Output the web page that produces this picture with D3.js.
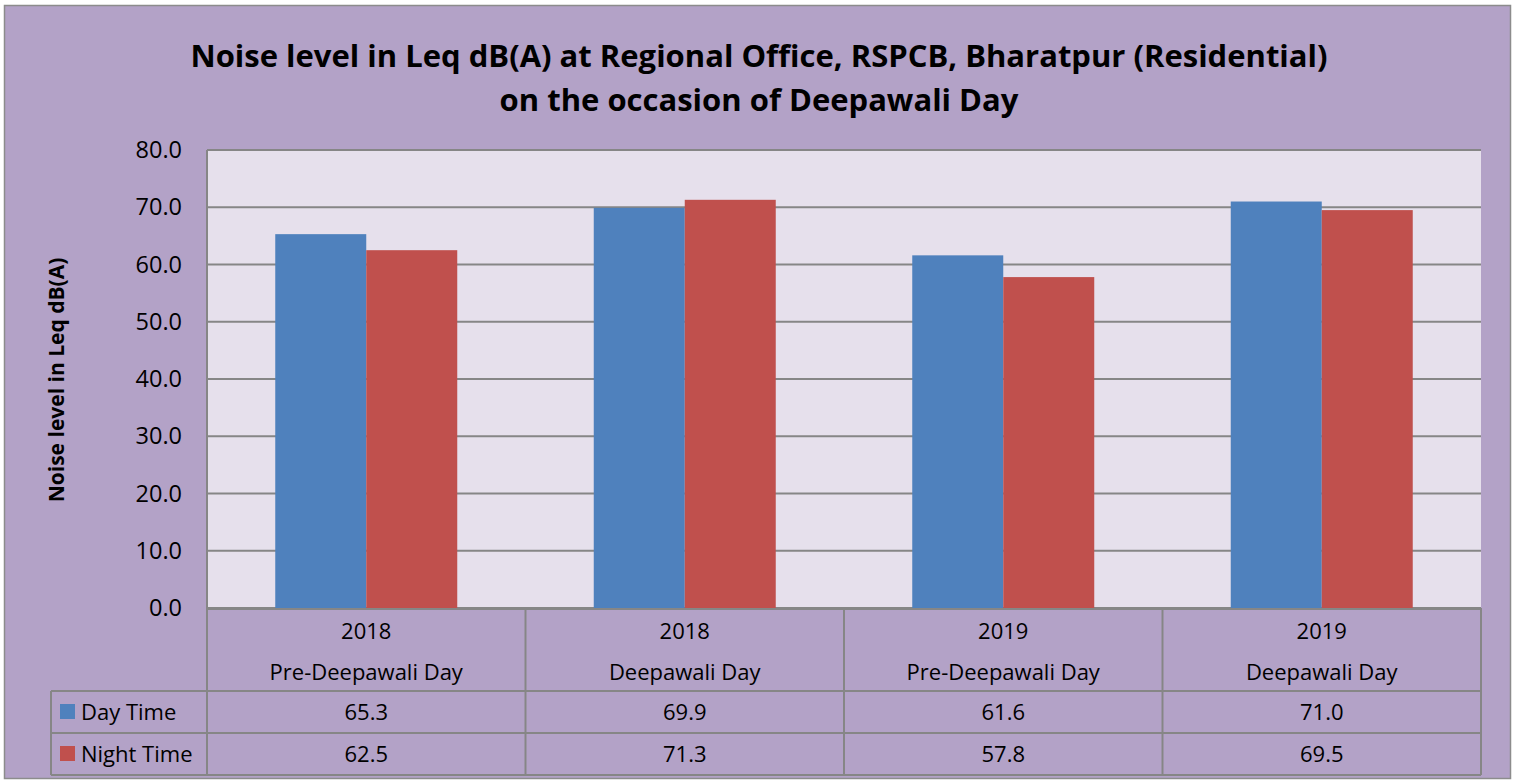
<!DOCTYPE html>
<html>
<head>
<meta charset="utf-8">
<script src="https://cdn.jsdelivr.net/npm/d3@7"></script>
<style>
  body { margin: 0; background: #fff; }
  svg text { font-family: "Open Sans", "Noto Sans", sans-serif; fill: #000; }
</style>
</head>
<body>
<svg id="chart" width="1518" height="783"></svg>
<script>
// chart data
const years = ["2018", "2018", "2019", "2019"];
const occasions = ["Pre-Deepawali Day", "Deepawali Day", "Pre-Deepawali Day", "Deepawali Day"];
const seriesNames = ["Day Time", "Night Time"];
const dayTime = [65.3, 69.9, 61.6, 71.0];
const nightTime = [62.5, 71.3, 57.8, 69.5];
const yTicks = [0, 10, 20, 30, 40, 50, 60, 70, 80];
const colors = ["#4F81BD", "#C0504D"];

let svg = d3.select("#chart");
let plotLeft = 207, plotRight = 1481, plotTop = 150, plotBottom = 608;
let tableFont = 22;

let series = [dayTime, nightTime];
let cats = d3.range(years.length);

// outer frame
svg.append("rect")
  .attr("x", 4.5).attr("y", 5.5)
  .attr("width", 1506).attr("height", 773)
  .attr("fill", "#B3A2C7")
  .attr("stroke", "#8c8c8c").attr("stroke-width", 1.5);

// title
let title = svg.append("text")
  .attr("text-anchor", "middle")
  .attr("font-weight", "bold")
  .attr("font-size", 31);
title.append("tspan").attr("x", 759).attr("y", 67)
  .text("Noise level in Leq dB(A) at Regional Office, RSPCB, Bharatpur (Residential)");
title.append("tspan").attr("x", 759).attr("y", 111)
  .text("on the occasion of Deepawali Day");

// scales
let xScale = d3.scaleBand().domain(cats).range([plotLeft, plotRight]).paddingInner(0).paddingOuter(0);
let inner = d3.scaleBand().domain([0, 1]).range([0, xScale.bandwidth()]).paddingOuter(0.75).paddingInner(0);
let yScale = d3.scaleLinear().domain([0, 80]).range([plotBottom, plotTop]);

// plot bg
svg.append("rect")
  .attr("x", plotLeft).attr("y", plotTop)
  .attr("width", plotRight - plotLeft).attr("height", plotBottom - plotTop)
  .attr("fill", "#E6E0EC");

// gridlines
svg.append("g")
  .selectAll("line")
  .data(yTicks)
  .enter()
  .append("line")
  .attr("x1", plotLeft).attr("x2", plotRight)
  .attr("y1", d => yScale(d)).attr("y2", d => yScale(d))
  .attr("stroke", "#868686").attr("stroke-width", 2);

// left axis line
svg.append("line")
  .attr("x1", plotLeft).attr("x2", plotLeft)
  .attr("y1", plotTop).attr("y2", plotBottom)
  .attr("stroke", "#868686").attr("stroke-width", 2);

// y axis labels
let yAxis = svg.append("g")
  .attr("transform", "translate(" + (plotLeft - 25) + ",0)")
  .call(d3.axisLeft(yScale).tickValues(yTicks).tickFormat(d3.format(".1f")).tickSize(0).tickPadding(0));
yAxis.select(".domain").remove();
yAxis.selectAll("text")
  .attr("font-size", 23.5)
  .attr("font-family", "\"Open Sans\", sans-serif")
  .attr("fill", "#000");

// y axis title
svg.append("text")
  .attr("transform", "translate(64,380) rotate(-90)")
  .attr("text-anchor", "middle")
  .attr("font-weight", "bold")
  .attr("font-size", 21)
  .text("Noise level in Leq dB(A)");

// bars
series.forEach(function(vals, s) {
  svg.append("g")
    .selectAll("rect")
    .data(vals)
    .enter()
    .append("rect")
    .attr("x", (d, i) => xScale(i) + inner(s))
    .attr("y", d => yScale(d))
    .attr("width", inner.bandwidth())
    .attr("height", d => plotBottom - yScale(d))
    .attr("fill", colors[s]);
});

// data table
let tableLeft = 51;
let headBottom = 691, row1Bottom = 733, row2Bottom = 775;
let grid = svg.append("g").attr("stroke", "#868686").attr("stroke-width", 2).attr("fill", "none");
// horizontal lines
grid.append("line").attr("x1", plotLeft).attr("x2", plotRight).attr("y1", plotBottom + 1).attr("y2", plotBottom + 1);
[headBottom, row1Bottom, row2Bottom].forEach(function(y) {
  grid.append("line").attr("x1", tableLeft).attr("x2", plotRight).attr("y1", y).attr("y2", y);
});
// vertical lines
grid.append("line").attr("x1", tableLeft).attr("x2", tableLeft).attr("y1", headBottom).attr("y2", row2Bottom);
cats.concat([cats.length]).forEach(function(i) {
  let x = i < cats.length ? xScale(i) : plotRight;
  grid.append("line").attr("x1", x).attr("x2", x).attr("y1", plotBottom).attr("y2", row2Bottom);
});

// category header text
let head = svg.append("g");
cats.forEach(function(i) {
  let cx = xScale(i) + xScale.bandwidth() / 2;
  head.append("text").attr("x", cx).attr("y", 639)
    .attr("text-anchor", "middle").attr("font-size", tableFont).text(years[i]);
  head.append("text").attr("x", cx).attr("y", 680)
    .attr("text-anchor", "middle").attr("font-size", tableFont).text(occasions[i]);
});

// value rows + legend keys
let rowsY = [headBottom, row1Bottom];
series.forEach(function(vals, s) {
  let midY = (rowsY[s] + (s == 0 ? row1Bottom : row2Bottom)) / 2;
  svg.append("rect")
    .attr("x", 60).attr("y", midY - 8)
    .attr("width", 15).attr("height", 15)
    .attr("fill", colors[s]);
  svg.append("text")
    .attr("x", 81).attr("y", midY + 8)
    .attr("font-size", tableFont).text(seriesNames[s]);
  svg.append("g")
    .selectAll("text")
    .data(vals)
    .enter()
    .append("text")
    .attr("x", (d, i) => xScale(i) + xScale.bandwidth() / 2)
    .attr("y", midY + 8)
    .attr("text-anchor", "middle")
    .attr("font-size", tableFont)
    .text(d => d3.format(".1f")(d));
});
</script>
</body>
</html>
